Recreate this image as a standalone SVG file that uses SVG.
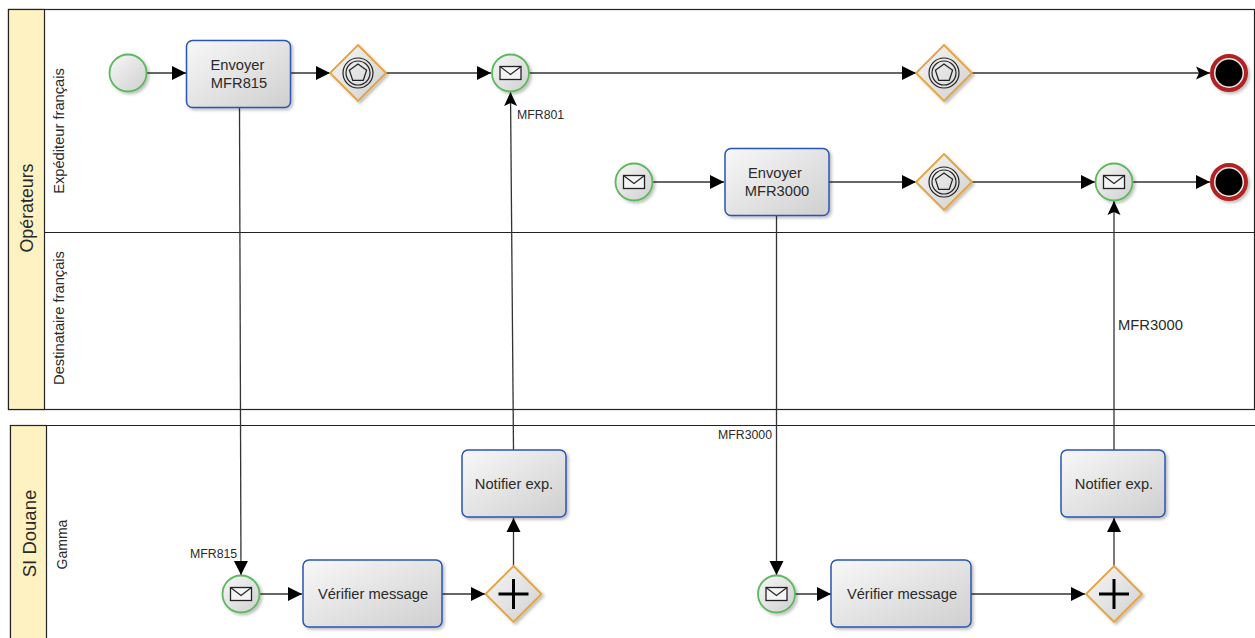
<svg xmlns="http://www.w3.org/2000/svg" width="1255" height="638" viewBox="0 0 1255 638">
<style>
text{font-family:"Liberation Sans",Arial,sans-serif;fill:#2a2a2a}
.pool{fill:#fff;stroke:#222;stroke-width:1.2}
.head{fill:#fff2c2;stroke:#222;stroke-width:1.2}
.lane{font-size:14.700px;text-anchor:middle}
.poolt{font-size:17.800px;text-anchor:middle}
.task{fill:url(#g);stroke:#2a55b0;stroke-width:1.5;filter:url(#s)}
.tt{font-size:14.700px;text-anchor:middle}
.ev{fill:url(#g);stroke:#5cb85c;stroke-width:1.8;filter:url(#s)}
.gw{fill:url(#g);stroke:#e5a33e;stroke-width:1.8;filter:url(#s)}
.sym{fill:none;stroke:#222;stroke-width:1.2}
.lab{font-size:12.300px}
.c{fill:none;stroke:#333;stroke-width:1.3}
.a{marker-end:url(#tri)}
.n{marker-end:url(#notch)}
</style>
<defs>
<linearGradient id="g" x1="0" y1="0" x2="1" y2="1"><stop offset="0" stop-color="#f8f8f8"/><stop offset="1" stop-color="#cfcfcf"/></linearGradient>
<filter id="s" x="-20%" y="-20%" width="150%" height="150%"><feDropShadow dx="2" dy="2" stdDeviation="1.800" flood-color="#000" flood-opacity=".25"/></filter>
<marker id="tri" markerUnits="userSpaceOnUse" markerWidth="15" markerHeight="15" refX="14" refY="7.500" orient="auto"><path d="M0 .5L14 7.500L0 14.500Z" fill="#000"/></marker>
<marker id="notch" markerUnits="userSpaceOnUse" markerWidth="15" markerHeight="15" refX="14" refY="7.500" orient="auto"><path d="M0 1L14 7.500L0 14L3 7.500Z" fill="#000"/></marker>
<g id="mail"><rect x="-10.500" y="-6.500" width="21" height="13" fill="#f4f4f4" stroke="#222" stroke-width="1.300"/><path d="M-10.500 -6.500L0 1.500L10.500 -6.500" fill="none" stroke="#222" stroke-width="1.100"/></g>
<g id="evgw"><circle r="15" class="sym"/><circle r="12" class="sym"/><path d="M0 -9L8.600 -2.800L5.300 7.300L-5.300 7.300L-8.600 -2.800Z" class="sym"/></g>
<path id="dia" d="M0 -28L28 0L0 28L-28 0Z"/>
</defs>
<rect width="1255" height="638" fill="#fff"/>
<g id="pool-operateurs">
<rect class="pool" x="8.500" y="9.500" width="1246" height="400"/>
<rect class="head" x="8.500" y="9.500" width="36" height="400"/>
<path d="M45 232.500H1254" stroke="#222" stroke-width="1.200"/>
<text class="poolt" transform="translate(32.500 208) rotate(-90)">Opérateurs</text>
<text class="lane" transform="translate(64 131) rotate(-90)">Expéditeur français</text>
<text class="lane" transform="translate(64 318) rotate(-90)">Destinataire français</text>
</g>
<g id="pool-si-douane">
<path class="pool" d="M1255 425.500H10.500V640H1255"/>
<rect class="head" x="10.500" y="425.500" width="36" height="215"/>
<text class="poolt" style="font-size:18.500px" transform="translate(36 533.500) rotate(-90)">SI Douane</text>
<text class="lane" style="font-size:14px" transform="translate(67 544.500) rotate(-90)">Gamma</text>
</g>
<g id="connectors">
<path class="c a" d="M147 73H186"/>
<path class="c a" d="M291 73H330"/>
<path class="c a" d="M386 73H491"/>
<path class="c a" d="M529 73H916"/>
<path class="c n" d="M972 73H1210"/>
<path class="c a" d="M653 182H724"/>
<path class="c a" d="M829 182H916"/>
<path class="c a" d="M972 182H1095"/>
<path class="c a" d="M1133 182H1210"/>
<path class="c a" d="M239.500 107L241 575"/>
<path class="c a" d="M776.500 215V575"/>
<path class="c n" d="M513.500 450L510.500 92"/>
<path class="c n" d="M1114 450V201"/>
<path class="c a" d="M260 594H302"/>
<path class="c a" d="M442 594H485"/>
<path class="c a" d="M513.500 566V518"/>
<path class="c a" d="M795 594H831"/>
<path class="c a" d="M971 594H1085"/>
<path class="c a" d="M1114 566V518"/>
<text class="lab" x="517" y="119">MFR801</text>
<text class="lab" x="190" y="558">MFR815</text>
<text class="lab" x="718" y="439">MFR3000</text>
<text x="1118" y="330" font-size="14.800">MFR3000</text>
</g>
<g id="start"><circle class="ev" cx="128" cy="73" r="18.500"/></g>
<g id="task-mfr815"><rect class="task" x="186.500" y="40.500" width="104" height="67" rx="6"/><text class="tt" x="237.500" y="70">Envoyer</text><text class="tt" x="239" y="88">MFR815</text></g>
<g id="gw1" transform="translate(358 73)"><use href="#dia" class="gw"/><use href="#evgw"/></g>
<g id="msg1" transform="translate(510.500 73)"><circle class="ev" r="18.500"/><use href="#mail"/></g>
<g id="gw2" transform="translate(944 73)"><use href="#dia" class="gw"/><use href="#evgw"/></g>
<g id="end1" transform="translate(1229 73)"><circle r="17" fill="#eee" stroke="#b22222" stroke-width="4" filter="url(#s)"/><circle r="13.500" fill="#000"/></g>
<g id="msg2" transform="translate(634 182)"><circle class="ev" r="18.500"/><use href="#mail"/></g>
<g id="task-mfr3000"><rect class="task" x="725" y="148.500" width="104" height="67" rx="6"/><text class="tt" x="775" y="178">Envoyer</text><text class="tt" x="777" y="196">MFR3000</text></g>
<g id="gw3" transform="translate(944 182)"><use href="#dia" class="gw"/><use href="#evgw"/></g>
<g id="msg3" transform="translate(1114 182)"><circle class="ev" r="18.500"/><use href="#mail"/></g>
<g id="end2" transform="translate(1229 182)"><circle r="17" fill="#eee" stroke="#b22222" stroke-width="4" filter="url(#s)"/><circle r="13.500" fill="#000"/></g>
<g id="msg4" transform="translate(241 594)"><circle class="ev" r="18.500"/><use href="#mail"/></g>
<g id="task-verif1"><rect class="task" x="303" y="560" width="139" height="67" rx="6"/><text class="tt" x="373" y="599">Vérifier message</text></g>
<g id="gw4" transform="translate(513.500 594)"><use href="#dia" class="gw"/><path d="M0 -15V15M-15 0H15" stroke="#000" stroke-width="3"/></g>
<g id="task-notif1"><rect class="task" x="462" y="450" width="104" height="67" rx="6"/><text class="tt" x="514" y="489">Notifier exp.</text></g>
<g id="msg5" transform="translate(776.500 594)"><circle class="ev" r="18.500"/><use href="#mail"/></g>
<g id="task-verif2"><rect class="task" x="831" y="560" width="140" height="67" rx="6"/><text class="tt" x="902" y="599">Vérifier message</text></g>
<g id="gw5" transform="translate(1114 594)"><use href="#dia" class="gw"/><path d="M0 -15V15M-15 0H15" stroke="#000" stroke-width="3"/></g>
<g id="task-notif2"><rect class="task" x="1061" y="450" width="104" height="67" rx="6"/><text class="tt" x="1114" y="489">Notifier exp.</text></g>
</svg>
